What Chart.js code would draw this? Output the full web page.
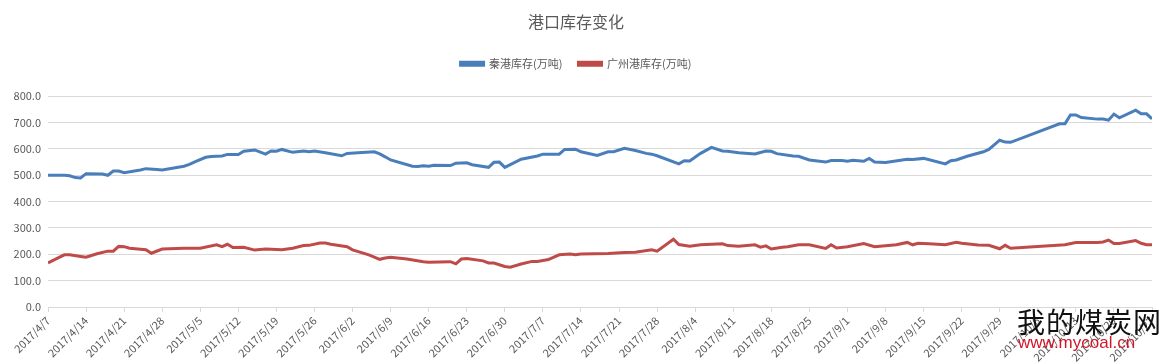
<!DOCTYPE html>
<html>
<head>
<meta charset="utf-8">
<script src="https://cdn.jsdelivr.net/npm/chart.js@4/dist/chart.umd.min.js"></script>
<style>
  body { margin: 0; background: #fff; }
  #wrap { position: relative; width: 1171px; height: 364px; }
  #mark1 { position: absolute; left: 1017px; top: 301px; font: 28px "Noto Sans CJK SC"; color: #111; letter-spacing: 1px; }
  #mark2 { position: absolute; left: 1018px; top: 333px; font: 17px "Liberation Sans"; color: #d3152a; }
</style>
</head>
<body>
<div id="wrap">
  <canvas id="js--chart" width="1171" height="364"></canvas>
  <div id="mark1">我的煤炭网</div>
  <div id="mark2">www.mycoal.cn</div>
</div>
<script>
const seriesNames = ["秦港库存(万吨)", "广州港库存(万吨)"];

const qinDates = [
    "2017/4/7", "2017/4/10", "2017/4/11", "2017/4/12", "2017/4/13", "2017/4/14", "2017/4/17", "2017/4/18",
    "2017/4/19", "2017/4/20", "2017/4/21", "2017/4/24", "2017/4/25", "2017/4/27", "2017/4/28", "2017/5/2",
    "2017/5/3", "2017/5/4", "2017/5/6", "2017/5/7", "2017/5/9", "2017/5/10", "2017/5/12", "2017/5/13",
    "2017/5/15", "2017/5/17", "2017/5/18", "2017/5/19", "2017/5/20", "2017/5/22", "2017/5/24", "2017/5/25",
    "2017/5/26", "2017/5/28", "2017/5/31", "2017/6/1", "2017/6/3", "2017/6/6", "2017/6/7", "2017/6/8",
    "2017/6/9", "2017/6/13", "2017/6/14", "2017/6/15", "2017/6/16", "2017/6/17", "2017/6/20", "2017/6/21",
    "2017/6/23", "2017/6/24", "2017/6/27", "2017/6/28", "2017/6/29", "2017/6/30", "2017/7/3", "2017/7/6",
    "2017/7/7", "2017/7/10", "2017/7/11", "2017/7/13", "2017/7/14", "2017/7/17", "2017/7/19", "2017/7/20",
    "2017/7/22", "2017/7/24", "2017/7/26", "2017/7/27", "2017/7/28", "2017/8/1", "2017/8/2", "2017/8/3",
    "2017/8/5", "2017/8/7", "2017/8/9", "2017/8/10", "2017/8/12", "2017/8/15", "2017/8/17", "2017/8/18",
    "2017/8/19", "2017/8/22", "2017/8/23", "2017/8/25", "2017/8/28", "2017/8/29", "2017/8/31", "2017/9/1",
    "2017/9/2", "2017/9/4", "2017/9/5", "2017/9/6", "2017/9/8", "2017/9/12", "2017/9/13", "2017/9/15",
    "2017/9/19", "2017/9/20", "2017/9/21", "2017/9/23", "2017/9/26", "2017/9/27", "2017/9/29", "2017/9/30",
    "2017/10/1", "2017/10/10", "2017/10/11", "2017/10/12", "2017/10/13", "2017/10/14", "2017/10/17", "2017/10/18",
    "2017/10/19", "2017/10/20", "2017/10/21", "2017/10/24", "2017/10/25", "2017/10/26", "2017/10/27"
];
const qinValues = [
    500, 500, 498, 491, 490, 506, 505, 500,
    516, 516, 510, 520, 525, 522, 520, 534,
    541, 551, 568, 571, 573, 579, 579, 591,
    596, 580, 592, 591, 598, 587, 592, 589,
    592, 585, 574, 583, 585, 589, 581, 570,
    558, 534, 533, 536, 534, 538, 537, 546,
    547, 540, 530, 549, 550, 530, 561, 573,
    580, 580, 598, 599, 589, 575, 589, 589,
    602, 594, 583, 580, 574, 543, 555, 554,
    583, 606, 592, 591, 585, 581, 592, 591,
    582, 573, 572, 558, 550, 556, 556, 553,
    557, 553, 564, 550, 548, 561, 560, 564,
    543, 555, 558, 572, 589, 598, 633, 626,
    625, 695, 695, 729, 729, 719, 713, 713,
    709, 732, 718, 747, 733, 733, 714
];

const gzDates = [
    "2017/4/7", "2017/4/10", "2017/4/11", "2017/4/13", "2017/4/14", "2017/4/16", "2017/4/18", "2017/4/19",
    "2017/4/20", "2017/4/21", "2017/4/22", "2017/4/25", "2017/4/26", "2017/4/28", "2017/5/2", "2017/5/5",
    "2017/5/8", "2017/5/9", "2017/5/10", "2017/5/11", "2017/5/13", "2017/5/15", "2017/5/17", "2017/5/20",
    "2017/5/22", "2017/5/24", "2017/5/25", "2017/5/27", "2017/5/28", "2017/5/29", "2017/6/1", "2017/6/2",
    "2017/6/5", "2017/6/7", "2017/6/8", "2017/6/9", "2017/6/12", "2017/6/15", "2017/6/16", "2017/6/20",
    "2017/6/21", "2017/6/22", "2017/6/23", "2017/6/26", "2017/6/27", "2017/6/28", "2017/6/30", "2017/7/1",
    "2017/7/3", "2017/7/5", "2017/7/6", "2017/7/8", "2017/7/10", "2017/7/12", "2017/7/13", "2017/7/14",
    "2017/7/19", "2017/7/22", "2017/7/24", "2017/7/27", "2017/7/28", "2017/7/31", "2017/8/1", "2017/8/3",
    "2017/8/5", "2017/8/9", "2017/8/10", "2017/8/12", "2017/8/15", "2017/8/16", "2017/8/17", "2017/8/18",
    "2017/8/20", "2017/8/21", "2017/8/23", "2017/8/25", "2017/8/28", "2017/8/29", "2017/8/30", "2017/9/1",
    "2017/9/4", "2017/9/6", "2017/9/10", "2017/9/12", "2017/9/13", "2017/9/14", "2017/9/16", "2017/9/19",
    "2017/9/21", "2017/9/22", "2017/9/25", "2017/9/27", "2017/9/29", "2017/9/30", "2017/10/1", "2017/10/11",
    "2017/10/13", "2017/10/17", "2017/10/18", "2017/10/19", "2017/10/20", "2017/10/21", "2017/10/24", "2017/10/25",
    "2017/10/26", "2017/10/27"
];
const gzValues = [
    167, 198, 198, 192, 189, 202, 212, 212,
    230, 229, 223, 217, 204, 220, 223, 223,
    236, 229, 238, 226, 227, 216, 220, 217,
    223, 233, 234, 243, 243, 238, 229, 217,
    198, 181, 186, 189, 182, 172, 170, 172,
    164, 182, 184, 175, 167, 167, 154, 151,
    163, 173, 173, 180, 198, 201, 198, 201,
    203, 207, 208, 217, 212, 257, 237, 231,
    236, 240, 233, 231, 236, 227, 232, 220,
    227, 229, 236, 236, 222, 236, 224, 229,
    241, 229, 236, 245, 236, 242, 240, 236,
    246, 242, 235, 234, 221, 234, 223, 236,
    245, 245, 247, 254, 241, 241, 252, 242,
    236, 236
];

const startDay = Date.UTC(2017, 3, 7);
const dayMs = 86400000;

function toDay(s) {
    var p = s.split("/").map(Number);
    return (Date.UTC(p[0], p[1] - 1, p[2]) - startDay) / dayMs;
}

function dayLabel(v) {
    var d = new Date(startDay + v * dayMs);
    return d.getUTCFullYear() + "/" + (d.getUTCMonth() + 1) + "/" + d.getUTCDate();
}

function points(dates, values) {
    return dates.map(function (s, i) { return { x: toDay(s), y: values[i] }; });
}

const textColor = "#595959";
const gridColor = "#d9d9d9";
const fontName = "'Noto Sans CJK SC', 'Noto Sans', sans-serif";

// extra room under the legend
const legendGap = {
    id: "legendGap",
    beforeInit: function (chart) {
        var fit = chart.legend.fit;
        chart.legend.fit = function () {
            fit.bind(chart.legend)();
            this.height += 17;
        };
    }
};

const data = {
    datasets: [
        {
            label: seriesNames[0],
            data: points(qinDates, qinValues),
            borderColor: "#4a7ebb",
            backgroundColor: "#4a7ebb",
            borderWidth: 3,
            pointRadius: 0,
            tension: 0
        },
        {
            label: seriesNames[1],
            data: points(gzDates, gzValues),
            borderColor: "#be4b48",
            backgroundColor: "#be4b48",
            borderWidth: 3,
            pointRadius: 0,
            tension: 0
        }
    ]
};

const config = {
    type: "line",
    data: data,
    plugins: [legendGap],
    options: {
        responsive: false,
        animation: false,
        layout: { padding: { left: 0, right: 19, top: 0, bottom: 0 } },
        plugins: {
            title: {
                display: true,
                text: "港口库存变化",
                color: textColor,
                font: { family: fontName, size: 16, weight: "normal" },
                padding: { top: 12, bottom: 11 }
            },
            legend: {
                position: "top",
                labels: {
                    color: textColor,
                    font: { family: fontName, size: 11 },
                    boxWidth: 23,
                    boxHeight: 3,
                    padding: 16
                }
            },
            tooltip: { enabled: false }
        },
        scales: {
            x: {
                type: "linear",
                min: 0,
                max: 203,
                afterFit: function (s) { s.height = 57; },
                ticks: {
                    stepSize: 7,
                    minRotation: 45,
                    maxRotation: 45,
                    autoSkip: false,
                    color: textColor,
                    font: { family: fontName, size: 11 },
                    padding: 2,
                    callback: function (v) { return dayLabel(v); }
                },
                grid: { drawOnChartArea: false, tickLength: 5, color: gridColor },
                border: { color: gridColor }
            },
            y: {
                min: 0,
                max: 800,
                afterFit: function (s) { s.width = 48; },
                ticks: {
                    stepSize: 100,
                    color: textColor,
                    font: { family: fontName, size: 11 },
                    padding: 7,
                    callback: function (v) { return v.toFixed(1); }
                },
                grid: { color: gridColor, drawTicks: false },
                border: { display: false }
            }
        }
    }
};

new Chart(document.getElementById("js--chart"), config);
</script>
</body>
</html>
